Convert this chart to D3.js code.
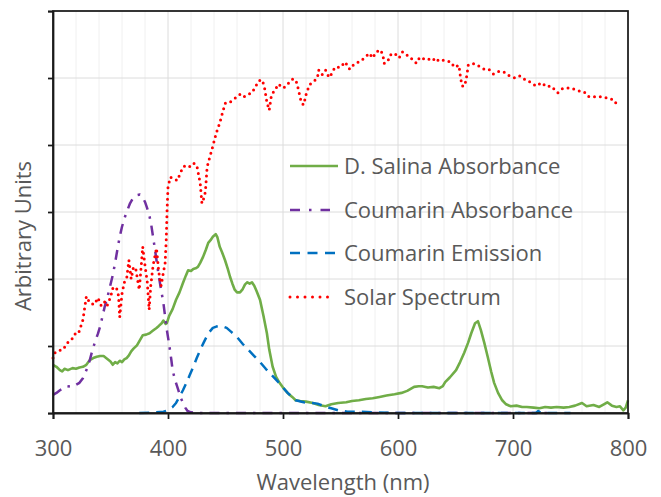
<!DOCTYPE html>
<html><head><meta charset="utf-8">
<script src="https://cdn.jsdelivr.net/npm/d3@7/dist/d3.min.js"></script>
<style>
body{margin:0;background:#fff}
svg{display:block}
text{font-family:"Open Sans",sans-serif;fill:#595959}
</style>
</head><body>
<svg id="chart" width="661" height="497"></svg>
<script>
// ---------- data ----------
const xTicks = [300, 400, 500, 600, 700, 800];
const yTicks = [0, 1, 2, 3, 4, 5, 6];
const xTitle = "Wavelength (nm)";
const yTitle = "Arbitrary Units";
const seriesNames = ["D. Salina Absorbance", "Coumarin Absorbance", "Coumarin Emission", "Solar Spectrum"];
const seriesColors = ["#70AD47", "#7030A0", "#0070C0", "#FF0000"];

const salinaNm = [300,303,306,308,310,313,317,320,323,326,329,332,335,338,341,344,347,350,352,354,356,358,360,362,364,366,368,370,373,376,378,381,384,387,390,392,394.5,396,398,399,401,404,407,410,413,415.5,417.5,420,422,424,426,428,430.5,433,435,437,439,441.5,443,445,447,449.6,452,454,456,458,460,462.6,465,467,469,471,473,475,477,480,483,486,488,491,494,497,500,504,508,511,515,520,526,531,537,542,548,555,560,566,572,578,584,590,597,603,608,614,618,621,626,631,636,639,641,645,650.5,654,657.6,661,663.7,667,669.5,672,675,678,681,683.6,687,690.6,694,698,703,708,712,718,723,728,733,738,744,749,754,760,764,770,775,779,782,786,790,793,796,798,800];
const salinaVal = [0.72,0.69,0.64,0.62,0.66,0.64,0.67,0.66,0.68,0.69,0.72,0.79,0.82,0.84,0.85,0.85,0.81,0.77,0.72,0.76,0.74,0.78,0.76,0.80,0.82,0.86,0.92,0.96,1.01,1.10,1.16,1.17,1.19,1.23,1.27,1.30,1.34,1.38,1.33,1.34,1.45,1.55,1.69,1.80,1.94,2.05,2.13,2.12,2.15,2.16,2.18,2.24,2.33,2.44,2.54,2.58,2.63,2.67,2.62,2.48,2.40,2.28,2.15,2.03,1.93,1.84,1.80,1.80,1.85,1.92,1.95,1.93,1.95,1.90,1.82,1.69,1.45,1.19,0.95,0.69,0.54,0.45,0.38,0.30,0.24,0.19,0.18,0.17,0.15,0.12,0.10,0.13,0.15,0.16,0.18,0.19,0.21,0.22,0.24,0.26,0.28,0.30,0.33,0.39,0.40,0.40,0.38,0.39,0.37,0.40,0.46,0.53,0.64,0.76,0.90,1.05,1.19,1.34,1.37,1.24,1.05,0.84,0.62,0.45,0.30,0.19,0.13,0.10,0.11,0.09,0.09,0.08,0.07,0.09,0.08,0.09,0.08,0.09,0.11,0.15,0.10,0.12,0.09,0.13,0.16,0.11,0.09,0.10,0.04,0.08,0.19];

const coumAbsNm = [300,303,306,309,312,317,320,323,326,328,330,332,334,336.5,339,341,343,345,347.5,349.6,352,354,356,358,360,362.6,365,367,369,371,373,375.6,378,380,382,384,385.5,387,388.5,390,391.5,393,394.5,396,397.5,399,400.5,401.7,403,404,406,409,411,413,415,417,420,425,450,500,550,600,650,700,730];
const coumAbsVal = [0.27,0.30,0.34,0.37,0.40,0.39,0.42,0.45,0.52,0.60,0.68,0.79,0.92,1.06,1.18,1.29,1.44,1.59,1.74,1.89,2.06,2.24,2.44,2.63,2.78,2.93,3.04,3.13,3.19,3.23,3.25,3.26,3.22,3.15,3.05,2.93,2.80,2.63,2.46,2.28,2.10,1.94,1.79,1.64,1.44,1.24,1.08,0.94,0.78,0.64,0.50,0.34,0.23,0.15,0.08,0.03,0.01,0.0,0.0,0.0,0.0,0.0,0.0,0.0,0.0];

const coumEmNm = [375,385,396,400,404,407,410,413,416,419,422,425,428,431,433.6,436,439,442,445,448,451,455,459.7,465,470,475,480,485,490,497,504,511,518,524,530,536,542,548,556,566,580,600,650,700,720,722,724,750];
const coumEmVal = [0.0,0.005,0.02,0.04,0.09,0.15,0.24,0.34,0.45,0.57,0.69,0.82,0.94,1.05,1.14,1.21,1.27,1.29,1.30,1.29,1.27,1.21,1.14,1.03,0.94,0.85,0.76,0.66,0.57,0.44,0.30,0.19,0.16,0.15,0.14,0.10,0.07,0.04,0.02,0.02,0.01,0.0,0.0,0.0,0.0,0.03,0.0,0.0];

const solarNm = [300,302,305,309,312,316,319,322,326,329,332,336,339,342,345,347,350,352,355,357,358,360,362,364,366,368,370,372,375,377,378,380,382,383.6,385,387,390,392,394,396,397.5,398.5,399.2,400,402,405,408,410,413,416,419,422,425,428,429.5,431,432.5,434,436,438,440,442,445,448,450,454,457,460,463,466,470,473,476,479,482,484,486,488,490,493,496,500,503,506,509,512,514,516,518,520,523,527,530,531,534,537,540,543,545,550,554,558,562,566,571,575,578,581,585,587,588,591,593,597,601,604,608,613,616,619,625,630,633,636,642,646,649,653,654.5,656,658,660,661,665,670,675,679,683,688,692,697,702,706,711,716,720,725,729,733,739,743,748,752,757,762,766,771,777,783,788,791];
const solarVal = [0.82,0.91,0.93,0.95,1.04,1.09,1.18,1.18,1.39,1.74,1.64,1.62,1.72,1.60,1.66,1.60,1.73,1.86,1.88,1.75,1.43,1.78,1.95,2.00,2.28,2.00,2.18,2.15,1.84,2.26,2.48,2.20,1.95,1.54,1.90,2.20,2.46,2.10,1.90,2.10,2.24,2.60,3.03,3.37,3.52,3.50,3.47,3.55,3.67,3.70,3.68,3.73,3.70,3.43,3.13,3.20,3.30,3.67,3.80,3.92,4.05,4.18,4.33,4.52,4.63,4.64,4.68,4.72,4.76,4.72,4.76,4.78,4.87,4.96,4.97,4.85,4.64,4.52,4.75,4.82,4.91,4.85,4.88,4.95,4.99,4.93,4.78,4.63,4.60,4.75,4.90,4.95,5.01,5.12,5.05,5.12,5.01,5.08,5.16,5.16,5.24,5.13,5.21,5.24,5.30,5.37,5.30,5.39,5.42,5.33,5.22,5.24,5.34,5.37,5.30,5.39,5.34,5.27,5.22,5.31,5.27,5.30,5.24,5.28,5.25,5.24,5.16,5.19,4.99,4.88,4.88,5.05,5.19,5.22,5.18,5.13,5.13,5.06,5.10,5.09,5.03,5.00,5.03,4.97,4.93,4.88,4.93,4.87,4.88,4.78,4.84,4.85,4.84,4.81,4.79,4.72,4.72,4.72,4.70,4.67,4.58];

// ---------- layout ----------
const svg = d3.select("#chart");
const plot = {left: 53, right: 628, top: 11, bottom: 413};
const x = d3.scaleLinear().domain([300, 800]).range([plot.left, plot.right]);
const y = d3.scaleLinear().domain([0, 6]).range([plot.bottom, plot.top]);
const FONT = 22;

// gridlines
const minorX = d3.range(300, 801, 20).filter(v => v % 100 !== 0);
svg.append("g").selectAll("line").data(minorX).join("line")
  .attr("x1", d => x(d)).attr("x2", d => x(d))
  .attr("y1", plot.top).attr("y2", plot.bottom)
  .attr("stroke", "#f0f0f0").attr("stroke-width", 1);
svg.append("g").selectAll("line").data(xTicks.slice(1, -1)).join("line")
  .attr("x1", d => x(d)).attr("x2", d => x(d))
  .attr("y1", plot.top).attr("y2", plot.bottom)
  .attr("stroke", "#dcdcdc").attr("stroke-width", 1);
svg.append("g").selectAll("line").data(yTicks.slice(1, -1)).join("line")
  .attr("x1", plot.left).attr("x2", plot.right)
  .attr("y1", d => y(d)).attr("y2", d => y(d))
  .attr("stroke", "#dcdcdc").attr("stroke-width", 1);

// series
const line = d3.line().x(d => x(d[0])).y(d => y(d[1]));
const zip = (a, b) => a.map((v, i) => [v, b[i]]);
const seriesData = [zip(salinaNm, salinaVal), zip(coumAbsNm, coumAbsVal), zip(coumEmNm, coumEmVal), zip(solarNm, solarVal)];
const dashes = [null, "10 7 2.5 7", "10 7", "0 5.8"];
const widths = [2.6, 2.5, 2.5, 3];
const caps = ["butt", "butt", "butt", "round"];

seriesData.forEach((d, i) => {
  svg.append("path").datum(d)
    .attr("d", line)
    .attr("fill", "none")
    .attr("stroke", seriesColors[i])
    .attr("stroke-width", widths[i])
    .attr("stroke-dasharray", dashes[i])
    .attr("stroke-linecap", caps[i])
    .attr("stroke-linejoin", "round");
});

// frame
svg.append("rect")
  .attr("x", plot.left).attr("y", plot.top)
  .attr("width", plot.right - plot.left).attr("height", plot.bottom - plot.top)
  .attr("fill", "none").attr("stroke", "#1a1a1a").attr("stroke-width", 1.75);

// axes
const xAxis = svg.append("g").attr("transform", `translate(0,${plot.bottom})`)
  .call(d3.axisBottom(x).tickValues(xTicks).tickSize(6).tickPadding(21).tickFormat(d3.format("d")));
const yAxis = svg.append("g").attr("transform", `translate(${plot.left},0)`)
  .call(d3.axisLeft(y).tickValues(yTicks).tickSize(5).tickFormat(""));
[xAxis, yAxis].forEach(g => {
  g.select(".domain").attr("stroke", "#1a1a1a").attr("stroke-width", 1.75);
  g.selectAll(".tick line").attr("stroke", "#1a1a1a").attr("stroke-width", 1.75);
  g.selectAll("text").attr("font-family", "Open Sans").attr("font-size", FONT).attr("fill", "#595959");
});

// titles
svg.append("text").attr("x", 343).attr("y", 490).attr("text-anchor", "middle")
  .attr("font-size", FONT).text(xTitle);
svg.append("text").attr("transform", "translate(31,236) rotate(-90)").attr("text-anchor", "middle")
  .attr("font-size", FONT).text(yTitle);

// legend
const legY = [166, 210, 253, 297];
const legDash = [null, "10 9 2.5 9", "10 7.5", "0 7.5"];
const legEnd = [338, 330, 337, 335];
seriesNames.forEach((name, i) => {
  svg.append("line")
    .attr("x1", 290).attr("x2", legEnd[i])
    .attr("y1", legY[i]).attr("y2", legY[i])
    .attr("stroke", seriesColors[i]).attr("stroke-width", widths[i])
    .attr("stroke-dasharray", legDash[i]).attr("stroke-linecap", caps[i]);
  svg.append("text").attr("x", 344).attr("y", legY[i] + 8)
    .attr("font-size", FONT).text(name);
});
</script>
</body></html>
